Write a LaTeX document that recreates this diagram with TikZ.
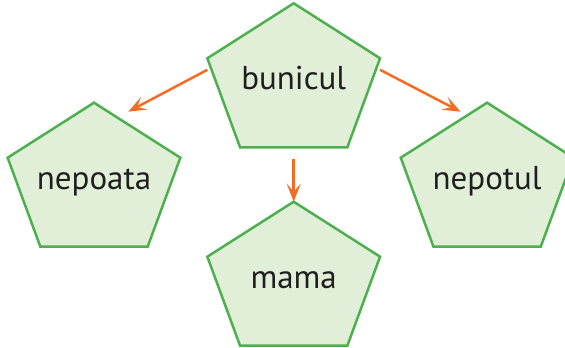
\documentclass[tikz,border=0pt]{standalone}
\usepackage{fontspec}
\setmainfont{PT Sans}
\usepackage{xcolor}
\usepackage{tikz}
\usetikzlibrary{positioning, backgrounds, arrows.meta}

\definecolor{pentafill}{HTML}{E2EFD8}
\definecolor{pentaedge}{HTML}{4DB04F}
\definecolor{arrorange}{HTML}{F26D23}

\begin{document}
\begin{tikzpicture}[
        penta/.style={rectangle, minimum width=172.7pt, minimum height=144pt, inner sep=0pt, outer sep=0pt,
            text height=29pt, text depth=0pt, font=\fontsize{33}{38}\selectfont, text=black!88},
        pentaline/.style={draw=pentaedge, fill=pentafill, line width=2.5pt, line join=miter},
        arr/.style={-{Stealth[length=18pt 0 0, width=14pt 0 0, inset=8pt 0]}, draw=arrorange, line width=2.5pt}
    ]
        \useasboundingbox (0,0) rectangle (565pt,348pt);

        % Nodes
        \node (bunicul) [penta] at (293.7pt,272.7pt) {bunicul};
        \node (nepoata) [penta, left=27pt of bunicul, yshift=-99.4pt] {nepoata};
        \node (nepotul) [penta, right=20.7pt of bunicul, yshift=-99.4pt] {nepotul};
        \node (mama) [penta, below=54.4pt of bunicul] {mama};

        % Pentagons
        \begin{scope}[on background layer]
            \foreach \n in {bunicul, nepoata, nepotul, mama}
                \draw[pentaline] (\n.north) -- ([yshift=-55pt]\n.north east) -- ([xshift=-32.7pt]\n.south east)
                    -- ([xshift=32.7pt]\n.south west) -- ([yshift=-55pt]\n.north west) -- cycle;
        \end{scope}

        % Arrows
        \draw[arr] ([yshift=5.5pt]bunicul.west) -- ([xshift=34.3pt, yshift=-9pt]nepoata.north);
        \draw[arr] ([yshift=5.5pt]bunicul.east) -- ([xshift=-26.5pt, yshift=-9pt]nepotul.north);
        \draw[arr] ([yshift=-11.7pt]bunicul.south) -- (mama.north);

    \end{tikzpicture}
\end{document}
